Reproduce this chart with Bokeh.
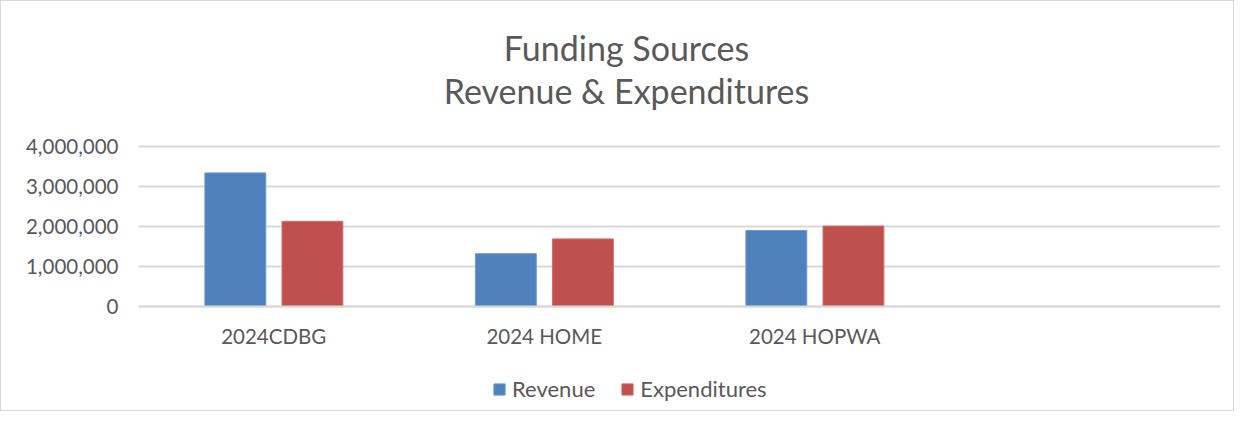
from bokeh.plotting import figure
from bokeh.models import ColumnDataSource, Legend, LegendItem, Label, Range1d, FixedTicker, NumeralTickFormatter
from bokeh.transform import dodge
from bokeh.embed import file_html
from bokeh.resources import INLINE

# ---- data ----
categories = ["2024CDBG", "2024 HOME", "2024 HOPWA"]
all_factors = ["2024CDBG", "2024 HOME", "2024 HOPWA", " "]
revenue = [3340000, 1320000, 1900000]
expenditures = [2130000, 1690000, 2010000]
y_ticks = [0, 1000000, 2000000, 3000000, 4000000]
title_lines = ["Funding Sources", "Revenue & Expenditures"]

FONT = "Lato"
TXT = "#595959"
BLUE = "#4f81bd"
RED = "#c0504d"
GRID = "#d9d9d9"

# layout geometry (pixels)
W, H = 1234, 411
LEFT, RIGHT = 137, 1219
ZERO_PX = 305          # y pixel of value 0 (from top)
PX_PER_UNIT = 40 / 1e6  # pixels per data unit
y_start = -(H - ZERO_PX) / PX_PER_UNIT
y_end = ZERO_PX / PX_PER_UNIT
x_per_cat = (RIGHT - LEFT) / len(all_factors)
title_x = (625 - LEFT) / x_per_cat

src = ColumnDataSource(dict(cat=categories, rev=revenue, exp=expenditures))

p = figure(width=W, height=H, x_range=all_factors, y_range=Range1d(y_start, y_end),
           output_backend="svg", toolbar_location=None,
           min_border_left=LEFT, min_border_right=W - RIGHT, min_border_top=0, min_border_bottom=0)
p.outline_line_color = None
p.background_fill_color = "white"
p.border_fill_color = "white"
p.styles = {"border": "1px solid #d9d9d9"}

r1 = p.vbar(x=dodge("cat", -0.142, range=p.x_range), top="rev", bottom=0, width=0.225, source=src,
            fill_color=BLUE, line_color="#6f97cc", line_width=1)
r2 = p.vbar(x=dodge("cat", 0.143, range=p.x_range), top="exp", bottom=0, width=0.225, source=src,
            fill_color=RED, line_color="#d06f6c", line_width=1)

# axes
p.yaxis.ticker = FixedTicker(ticks=y_ticks)
p.yaxis.formatter = NumeralTickFormatter(format="0,0")
p.yaxis.axis_line_color = None
p.yaxis.major_tick_line_color = None
p.yaxis.minor_tick_line_color = None
p.yaxis.major_tick_out = 0
p.yaxis.major_label_standoff = 20
p.yaxis.major_label_text_font = FONT
p.yaxis.major_label_text_font_size = "20.5px"
p.yaxis.major_label_text_color = TXT

p.xaxis.fixed_location = 0
p.xaxis.axis_line_color = GRID
p.xaxis.axis_line_width = 2
p.xaxis.major_tick_line_color = None
p.xaxis.minor_tick_line_color = None
p.xaxis.major_tick_out = 0
p.xaxis.major_label_standoff = 17
p.xaxis.major_label_text_font = FONT
p.xaxis.major_label_text_font_size = "20.5px"
p.xaxis.major_label_text_color = TXT

p.xgrid.grid_line_color = None
p.ygrid.grid_line_color = GRID
p.ygrid.grid_line_width = 2
p.ygrid.ticker = FixedTicker(ticks=y_ticks)

# title (two lines)
p.add_layout(Label(x=title_x, y=(ZERO_PX - 46) / PX_PER_UNIT, text=title_lines[0], text_align="center",
                   text_baseline="alphabetic", text_font=FONT, text_font_size="34px", text_color=TXT))
p.add_layout(Label(x=title_x, y=(ZERO_PX - 89) / PX_PER_UNIT, text=title_lines[1], text_align="center",
                   text_baseline="alphabetic", text_font=FONT, text_font_size="34px", text_color=TXT))

legend = Legend(items=[LegendItem(label="Revenue", renderers=[r1]),
                       LegendItem(label="Expenditures", renderers=[r2])],
                location=(491 - LEFT, 10), orientation="horizontal",
                glyph_width=14, glyph_height=14, label_standoff=6, spacing=25,
                padding=0, margin=0, border_line_color=None, background_fill_alpha=0,
                label_text_font=FONT, label_text_font_size="22px", label_text_color=TXT)
p.add_layout(legend, "center")

open("out.html", "w").write(file_html(p, INLINE))
